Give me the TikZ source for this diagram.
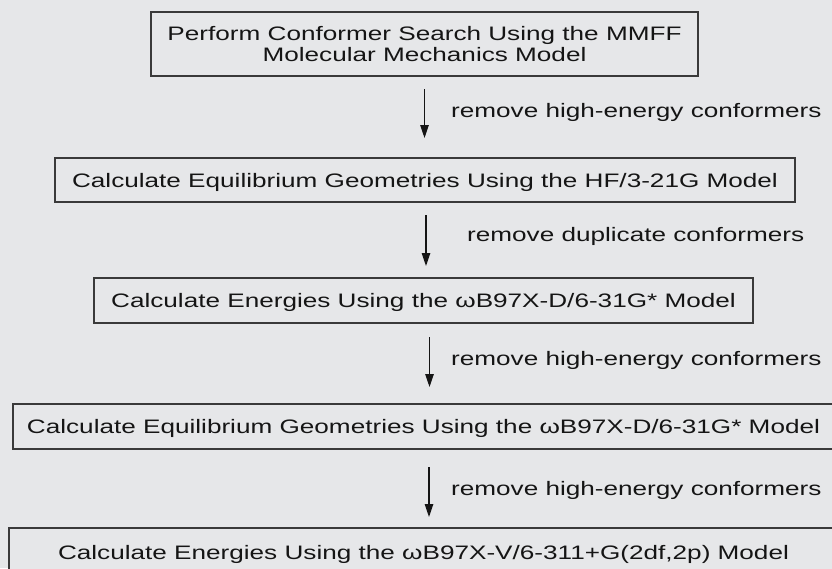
\documentclass[tikz,border=0pt]{standalone}
\usepackage{fontspec}
\setmainfont{Liberation Sans}[FakeStretch=1.34]
\usetikzlibrary{arrows.meta}
\definecolor{bg}{HTML}{E6E7E9}
\definecolor{edge}{HTML}{3A3A3A}
\definecolor{ink}{HTML}{151515}
\tikzset{
  stepbox/.style={draw=edge, line width=1.5pt, fill=bg, inner sep=0pt,
    align=center, text=ink, font=\fontsize{19.5}{21.7}\selectfont},
  onerow/.style={text height=15pt, text depth=1pt},
  steplabel/.style={anchor=west, inner sep=0pt, text=ink,
    font=\fontsize{19.5}{21.7}\selectfont},
  flow/.style={draw=ink, line width=1.2pt,
    -{Triangle[length=13pt,width=8.5pt]}}
}
\begin{document}
\begin{tikzpicture}[x=1pt,y=-1pt]
\fill[bg] (0,0) rectangle (832,568);
\useasboundingbox (0,0) rectangle (832,568);
\begin{scope}
\clip (0,0) rectangle (832,568);
\node[stepbox, minimum width=547pt, minimum height=64pt] (b1) at (424.5,44)
  {Perform Conformer Search Using the MMFF\\Molecular Mechanics Model};
\node[stepbox, onerow, minimum width=740pt, minimum height=44pt] (b2) at (425,180)
  {Calculate Equilibrium Geometries Using the HF/3-21G Model};
\node[stepbox, onerow, minimum width=659pt, minimum height=45pt] (b3) at (423.5,300.5)
  {Calculate Energies Using the ωB97X-D/6-31G* Model};
\node[stepbox, onerow, minimum width=821pt, minimum height=45pt] (b4) at (423.5,426.5)
  {Calculate Equilibrium Geometries Using the ωB97X-D/6-31G* Model};
\node[stepbox, onerow, minimum width=829pt, minimum height=48pt] (b5) at (423.5,552)
  {Calculate Energies Using the ωB97X-V/6-311+G(2df,2p) Model};
\end{scope}
\coordinate (a1s) at (424.5,89);  \coordinate (a1e) at (424.5,138);
\coordinate (a2s) at (426,215);   \coordinate (a2e) at (426,266);
\coordinate (a3s) at (429.5,337); \coordinate (a3e) at (429.5,387);
\coordinate (a4s) at (429,467);   \coordinate (a4e) at (429,517);
\draw[flow] (a1s) -- (a1e);
\draw[flow] (a2s) -- (a2e);
\draw[flow] (a3s) -- (a3e);
\draw[flow] (a4s) -- (a4e);
\node[steplabel] (l1) at (451,112) {remove high-energy conformers};
\node[steplabel] (l2) at (467,236) {remove duplicate conformers};
\node[steplabel] (l3) at (451,360) {remove high-energy conformers};
\node[steplabel] (l4) at (451,490) {remove high-energy conformers};
\end{tikzpicture}
\end{document}
